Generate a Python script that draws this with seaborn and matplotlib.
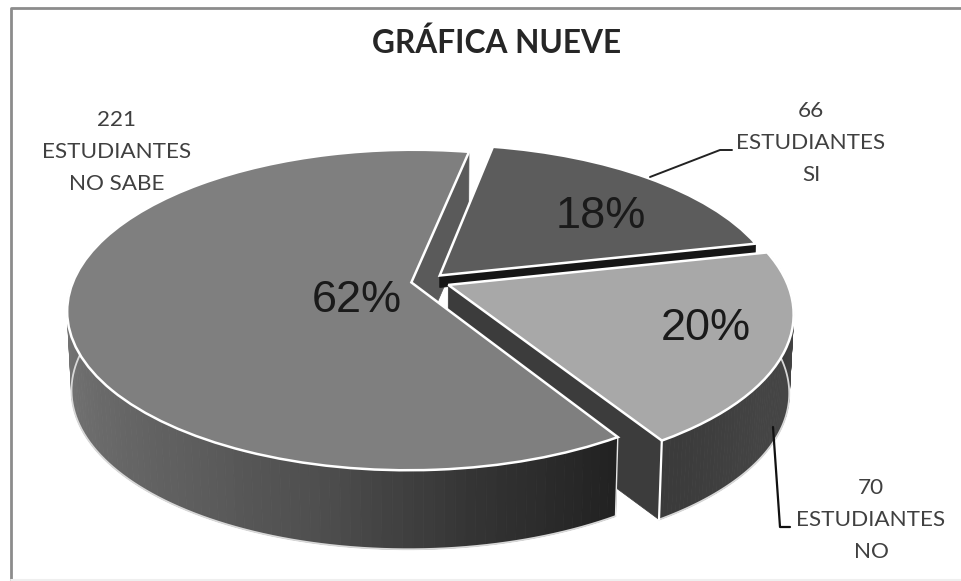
import numpy as np
import matplotlib
matplotlib.use('Agg')
import matplotlib.pyplot as plt
from matplotlib.transforms import Transform
import seaborn as sns

# data
answers = ['NO SABE', 'NO', 'SI']
students = [221, 70, 66]
percents = ['62%', '20%', '18%']
chart_title = 'GRÁFICA NUEVE'

# greys of the picture
top_colors = ['#7f7f7f', '#a8a8a8', '#5c5c5c']
cut_colors = ['#5a5a5a', '#3c3c3c', '#161616']
side_shades = [['#7c7c7c', '#747474', '#6a6a6a', '#5e5e5e', '#4e4e4e', '#343434', '#222222'],
               ['#3a3a3a', '#444444', '#454545', '#333333']]

# how the flat pie is tilted on the page
CX, CY = 428, 281
RX, RY = 338, 155
TILT = 0.172
DEPTH = 79
SHRINK = 0.012


def project(xy):
    xy = np.asarray(xy, dtype=float)
    w = 1 + TILT * xy[..., 1]
    return np.stack([CX + RX * xy[..., 0] / w, CY - RY * xy[..., 1] / w], axis=-1)


def drop(px, depth=DEPTH):
    out = np.array(px, dtype=float)
    out[..., 0] -= SHRINK * (depth / DEPTH) * (out[..., 0] - CX)
    out[..., 1] += depth
    return out


class TiltPlane(Transform):
    input_dims = 2
    output_dims = 2
    is_separable = False
    has_inverse = False

    def transform_non_affine(self, values):
        return project(values)


def arc_points(wedge, angles):
    rad = np.radians(angles)
    return np.column_stack([wedge.center[0] + wedge.r * np.cos(rad),
                            wedge.center[1] + wedge.r * np.sin(rad)])


def draw_band(ax, p0, p1, color, z, depth=DEPTH):
    a = np.array([p0, p1])
    b = drop(a, depth)[::-1]
    ax.fill(*np.vstack([a, b]).T, color=color, lw=0.5, zorder=z)


def draw_side(ax, wedge, shades, z, start=None, stop=None):
    # outer wall of a slice, cut in small steps so the shade can change
    t1 = wedge.theta1 if start is None else start
    t2 = wedge.theta2 if stop is None else stop
    angles = np.linspace(t1, t2, 90)
    top = project(arc_points(wedge, angles))
    low = drop(top)
    pal = sns.blend_palette(shades, len(angles) - 1)
    for i in range(len(angles) - 1):
        quad = np.vstack([top[i:i + 2], low[i:i + 2][::-1]])
        ax.fill(*quad.T, color=pal[i], lw=0.6, zorder=z)
    ax.plot(*low.T, color='#d8d8d8', lw=1.3, zorder=z, solid_capstyle='round')


sns.set_theme(style='white')
plt.rcParams['font.family'] = ['Lato', 'DejaVu Sans']

fig = plt.figure(figsize=(9.61, 5.81), dpi=100, facecolor='white')
ax = fig.add_axes([0, 0, 1, 1])

wedges, _ = ax.pie(students, colors=top_colors, startangle=79,
                   explode=[0.05, 0.065, 0.05], radius=1,
                   wedgeprops={'edgecolor': 'white', 'linewidth': 1.8})
ax.set_aspect('auto')
ax.set_xlim(0, 961)
ax.set_ylim(581, 0)
ax.axis('off')

plane = TiltPlane() + ax.transData
for w in wedges:
    w.set_transform(plane)
    w.set_clip_on(False)

sabe, no, si = wedges

# painted from back to front
c_sabe = project(sabe.center)
end_sabe = project(arc_points(sabe, [sabe.theta1]))[0]
draw_band(ax, c_sabe, end_sabe, cut_colors[0], 2)

# only a thin strip of this wall shows above the NO slice
c_si = project(si.center)
draw_band(ax, c_si, project(arc_points(si, [si.theta1]))[0], cut_colors[2], 3, depth=12)
si.set_zorder(4)

c_no = project(no.center)
corner_no = project(arc_points(no, [no.theta1]))[0]
draw_band(ax, c_no, corner_no, cut_colors[1], 5)
draw_side(ax, no, side_shades[1], 6)
ax.plot(*np.array([corner_no, drop(corner_no)]).T, color='white', lw=1.6, zorder=6.5)
no.set_zorder(7)

draw_side(ax, sabe, side_shades[0], 8, start=170)
corner_sabe = project(arc_points(sabe, [sabe.theta2]))[0]
ax.plot(*np.array([corner_sabe, drop(corner_sabe)]).T, color='#e8e8e8', lw=1.0, zorder=8.5)
sabe.set_zorder(9)

# percent labels
pct_font = dict(family='Liberation Sans', fontsize=32.5, color='#1a1a1a',
                ha='center', va='center', zorder=12)
ax.text(357, 300, percents[0], **pct_font)
ax.text(706, 329, percents[1], **pct_font)
ax.text(601, 217, percents[2], **pct_font)

# callouts
note_font = dict(fontsize=16.2, color='#404040', ha='center', va='center',
                 linespacing=1.78, zorder=12)
ax.text(117, 152, f'{students[0]}\nESTUDIANTES\n{answers[0]}', **note_font)
ax.text(811, 143, f'{students[2]}\nESTUDIANTES\n{answers[2]}', **note_font)
ax.text(871, 520, f'{students[1]}\nESTUDIANTES\n{answers[1]}', **note_font)

ax.plot([650, 720, 732], [177, 150, 150], color='#222222', lw=1.4, zorder=11)
ax.plot([773, 780, 790], [427, 527, 527], color='#111111', lw=1.6, zorder=11)

ax.text(497, 43, chart_title, fontsize=22.8, fontweight='bold', color='#262626',
        ha='center', va='center')

# chart frame, only left and top are really visible
ax.plot([11, 11, 961], [581, 8, 8], color='#8c8c8c', lw=2, clip_on=False)
ax.plot([11, 961], [580, 580], color='#efefef', lw=1.5)

fig.savefig('out.png', dpi=100)
